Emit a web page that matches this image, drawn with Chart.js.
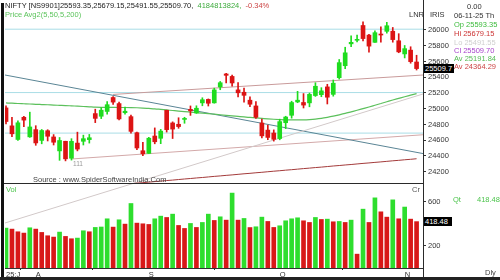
<!DOCTYPE html>
<html><head><meta charset="utf-8">
<script src="https://cdn.jsdelivr.net/npm/chart.js@4.4.1/dist/chart.umd.min.js"></script>
<style>
html,body{margin:0;padding:0;background:#fff;}
#wrap{position:relative;width:500px;height:280px;overflow:hidden;font-family:"Liberation Sans",Arial,sans-serif;background:#fff;}
canvas{position:absolute;left:0;top:0;}
.t{position:absolute;white-space:nowrap;font-size:7.5px;line-height:9px;color:#333;}
.ln{position:absolute;background:#2a2a2a;}
.box{position:absolute;background:#000;color:#fff;font-size:7.5px;line-height:9px;height:9px;padding-left:1px;white-space:nowrap;}
</style></head><body>
<div id="wrap">
<canvas id="vol" width="500" height="280"></canvas>
<canvas id="price" width="500" height="280"></canvas>
<div class="ln" style="left:1px;top:3px;width:3px;height:277px;background:#111"></div>
<div class="ln" style="left:4px;top:183px;width:420px;height:1px"></div>
<div class="ln" style="left:423px;top:0;width:1px;height:280px"></div>
<div class="ln" style="left:0;top:277px;width:500px;height:3px;background:#222"></div>
<div class="t" style="left:5px;top:1px"><span style="color:#222">NIFTY [NS9901]25593.35,25679.15,25491.55,25509.70,</span>&nbsp; <span style="color:#3caa3c">4184813824,</span>&nbsp; <span style="color:#cc4444">-0.34%</span></div>
<div class="t" style="left:5px;top:10px;color:#5cc45c">Price Avg2(5,50,5,200)</div>
<div class="t" style="left:409px;top:10px">LNR</div>
<div class="t" style="left:430px;top:10px">IRIS</div>
<div class="t" style="left:467px;top:1.5px">0.00</div>
<div class="t" style="left:454px;top:10.5px">06-11-25 Th</div>
<div class="t" style="left:454px;top:19.5px;color:#3cbb3c">Op 25593.35</div>
<div class="t" style="left:454px;top:28.5px;color:#cc3333">Hi 25679.15</div>
<div class="t" style="left:454px;top:37.5px;color:#cfcfcf">Lo 25491.55</div>
<div class="t" style="left:454px;top:45.5px;color:#a844cc">Cl 25509.70</div>
<div class="t" style="left:454px;top:53.5px;color:#55bb55">Av 25191.84</div>
<div class="t" style="left:454px;top:62px;color:#cc4444">Av 24364.29</div>
<div class="t" style="left:33px;top:174.5px;color:#444">Source : www.SpiderSoftwareIndia.Com</div>
<div class="t" style="left:73px;top:159px;color:#999;font-size:6.5px">111</div>
<div class="t" style="left:6px;top:184.5px;color:#4cc44c">Vol</div>
<div class="t" style="left:412px;top:184.5px;color:#555">Cr</div>
<div class="t" style="left:453px;top:194.5px;color:#4cc44c">Qt</div>
<div class="t" style="left:477px;top:194.5px;color:#4cc44c">418.48</div>
<div class="t" style="left:485px;top:268px;color:#444">Dly</div>
<div id="pbox" class="box" style="left:424px;width:29px">25509.7</div>
<div id="vbox" class="box" style="left:424px;width:27px">418.48</div>
</div>
<script>
// ---- data (Jul 25 2025 .. Nov 6 2025, daily) ----
const opens  = [25010,24782,24609,24891,24642,24734,24597,24720,24641,24464,24586,24371,24563,24586,24607,24938,24904,24965,25142,25065,24949,24899,24695,24466,24432,24653,24624,24980,24819,24802,24864,24991,24946,25074,25118,25074,25276,25441,25410,25239,25209,25108,25035,24818,24728,24691,24621,24822,24916,25086,25079,25074,25167,25178,25277,25182,25394,25546,25824,25869,26057,25935,25843,25939,25983,25984,25863,25696,25744,25593.35];
const highs  = [25035,24889,24847,24902,24956,24784,24736,24733,24671,24634,24587,24619,24702,24664,24673,24994,25012,25089,25153,25084,25021,24919,24702,24572,24636,24756,24737,24981,24833,24885,24891,25035,25037,25139,25124,25261,25346,25449,25428,25331,25261,25150,25092,24868,24791,24731,24867,24904,25095,25221,25192,25199,25330,25267,25310,25365,25625,25781,25926,25934,26104,25944,25990,26041,26097,26032,25953,25803,25787,25679.15];
const lows   = [24806,24646,24598,24771,24636,24535,24554,24590,24539,24344,24337,24347,24464,24539,24563,24823,24874,24929,25054,24859,24930,24689,24481,24404,24432,24554,24556,24703,24621,24751,24815,24915,24940,25037,25034,25070,25241,25329,25287,25151,25084,25027,24878,24629,24606,24588,24605,24747,24880,25076,25009,25024,25156,25152,25060,25159,25376,25508,25787,25848,25862,25718,25843,25845,25960,25845,25711,25645,25578,25491.55];
const closes = [24837,24681,24821,24855,24768,24565,24723,24650,24574,24596,24363,24585,24487,24619,24631,24877,24981,25051,25084,24870,24968,24712,24501,24427,24625,24580,24715,24734,24741,24773,24869,24973,25006,25114,25069,25239,25330,25424,25327,25202,25170,25057,24891,24655,24635,24611,24836,24894,25078,25108,25046,25182,25285,25227,25146,25324,25585,25710,25843,25869,25891,25795,25966,25936,26054,25878,25722,25763,25598,25509.70];
const volumes = [360,351,327,315,363,351,321,291,279,324,285,264,270,336,327,366,370,444,369,435,396,582,405,399,393,444,468,456,486,384,357,402,366,411,486,429,462,432,676,432,447,365,372,459,420,366,381,426,444,453,426,411,456,438,441,417,420,411,432,125,531,411,633,507,459,615,444,550,441,418.48];
const ma50 = [25073,25070,25066,25063,25060,25056,25053,25050,25046,25043,25040,25036,25032,25028,25024,25020,25018,25017,25016,25015,25015,25014,25012,25008,25003,24998,24991,24984,24977,24970,24964,24957,24950,24943,24937,24930,24923,24916,24909,24902,24895,24889,24883,24877,24871,24866,24862,24859,24857,24857,24858,24862,24868,24877,24890,24905,24922,24940,24960,24980,25001,25022,25044,25066,25088,25110,25131,25152,25172,25191.84];
const ma200 = [23909,23915,23922,23928,23935,23942,23948,23955,23961,23968,23975,23981,23988,23994,24001,24008,24014,24021,24027,24034,24041,24047,24054,24060,24067,24074,24080,24087,24093,24100,24107,24113,24120,24126,24133,24140,24146,24153,24159,24166,24173,24179,24186,24192,24199,24206,24212,24219,24225,24232,24239,24245,24252,24258,24265,24272,24278,24285,24291,24298,24305,24311,24318,24324,24331,24338,24344,24351,24357,24364.29];
const priceTicks = [24200,24400,24600,24800,25000,25200,25400,25600,25800,26000];
const volTicks = [200,600];
const monthTickIdx = [0,5,24,46,67];
const monthLabels = ['25:J','A','S','O','N'];
const hLevels = [26010,25205,24690];
// trend lines: [index, price] endpoints
const trendBlue    = [[-0.17,25428],[70.08,24430]];
const trendPinkUp  = [[18,25181],[70.08,25428]];
const trendPinkLow = [[11,24361],[70.08,24669]];
const trendGrey    = [[-0.17,23548],[70.08,25187]];

const X_MIN = -0.17, X_MAX = 70.08;
const UP = '#1fdc1f', DN = '#dc1414';
const FONT = {family:'"Liberation Sans", Arial, sans-serif', size:7.5};

function fixAxis(w){ return function(a){ a.width = w; a.paddingTop = 0; a.paddingBottom = 0; a.paddingLeft = 0; a.paddingRight = 0; }; }
const pts = arr => arr.map(p => ({x:p[0], y:p[1]}));
const lineDs = (data, color, order, extra) => Object.assign({type:'line', data, borderColor:color, borderWidth:1, pointRadius:0, fill:false, order, tension:0}, extra||{});

const candleColor = i => closes[i] >= opens[i] ? UP : DN;

const datasets = [];
hLevels.forEach(v => datasets.push(lineDs([{x:X_MIN,y:v},{x:X_MAX,y:v}], '#a9dde6', 6)));
datasets.push(lineDs(pts(trendGrey), '#d2c9c9', 5, {clip:false}));
datasets.push(lineDs(pts(trendBlue), '#5a8595', 5));
datasets.push(lineDs(pts(trendPinkUp), '#c99b9b', 5));
datasets.push(lineDs(pts(trendPinkLow), '#d3a9a9', 5));
datasets.push(lineDs(ma50.map((v,i)=>({x:i,y:v})), '#5cc05c', 4, {borderWidth:1.2, cubicInterpolationMode:'monotone'}));
datasets.push(lineDs(ma200.map((v,i)=>({x:i,y:v})), '#a33a3a', 4));
datasets.push({type:'bar', data: lows.map((l,i)=>({x:i,y:[l,highs[i]]})), backgroundColor: ctx => candleColor(ctx.dataIndex), barThickness:1, grouped:false, order:2});
datasets.push({type:'bar', data: opens.map((o,i)=>({x:i,y:[o,closes[i]]})), backgroundColor: ctx => candleColor(ctx.dataIndex), barThickness:4, minBarLength:1, grouped:false, order:1});

const priceChart = new Chart(document.getElementById('price'), {
  type:'bar',
  data:{datasets},
  options:{
    responsive:false, animation:false, devicePixelRatio:1,
    layout:{padding:{left:5, top:0, right:0, bottom:97}},
    plugins:{legend:{display:false}, tooltip:{enabled:false}},
    scales:{
      x:{type:'linear', min:X_MIN, max:X_MAX, display:false, offset:false},
      y:{type:'linear', position:'right', min:24056, max:26381,
         afterBuildTicks: a => { a.ticks = priceTicks.map(v=>({value:v})); },
         afterFit: fixAxis(77),
         ticks:{font:FONT, color:'#333', padding:2, callback: v => String(v)},
         grid:{drawOnChartArea:false, drawTicks:true, tickLength:3, color:'#333'},
         border:{display:true, color:'#333'}}
    }
  }
});

const volChart = new Chart(document.getElementById('vol'), {
  type:'bar',
  data:{datasets:[{
    data: volumes.map((v,i)=>({x:i,y:v})),
    backgroundColor: ctx => { const i = ctx.dataIndex; return (i === 0 || volumes[i] >= volumes[i-1]) ? '#2ede2e' : '#d81818'; },
    barThickness:4
  }]},
  options:{
    responsive:false, animation:false, devicePixelRatio:1,
    layout:{padding:{left:5, top:185, right:0, bottom:0}},
    plugins:{legend:{display:false}, tooltip:{enabled:false}},
    scales:{
      x:{type:'linear', min:X_MIN, max:X_MAX, offset:false, position:'bottom',
         afterBuildTicks: a => { a.ticks = monthTickIdx.map(v=>({value:v})); },
         afterFit: a => { a.height = 12; a.paddingLeft = 0; a.paddingRight = 0; },
         ticks:{font:FONT, color:'#333', padding:0, align:'start', maxRotation:0, autoSkip:false,
                callback: v => monthLabels[monthTickIdx.indexOf(v)]},
         grid:{drawOnChartArea:false, drawTicks:true, tickLength:2, color:'#333'},
         border:{display:true, color:'#333'}},
      y:{type:'linear', position:'right', min:0, max:749,
         afterBuildTicks: a => { a.ticks = volTicks.map(v=>({value:v})); },
         afterFit: fixAxis(77),
         ticks:{font:FONT, color:'#333', padding:2, callback: v => String(v)},
         grid:{drawOnChartArea:false, drawTicks:true, tickLength:3, color:'#333'},
         border:{display:true, color:'#333'}}
    }
  }
});

const py = priceChart.scales.y.getPixelForValue(closes[closes.length-1]);
document.getElementById('pbox').style.top = (py - 4.5) + 'px';
const vy = volChart.scales.y.getPixelForValue(volumes[volumes.length-1]);
document.getElementById('vbox').style.top = (vy - 4.5) + 'px';
</script>
</body></html>
